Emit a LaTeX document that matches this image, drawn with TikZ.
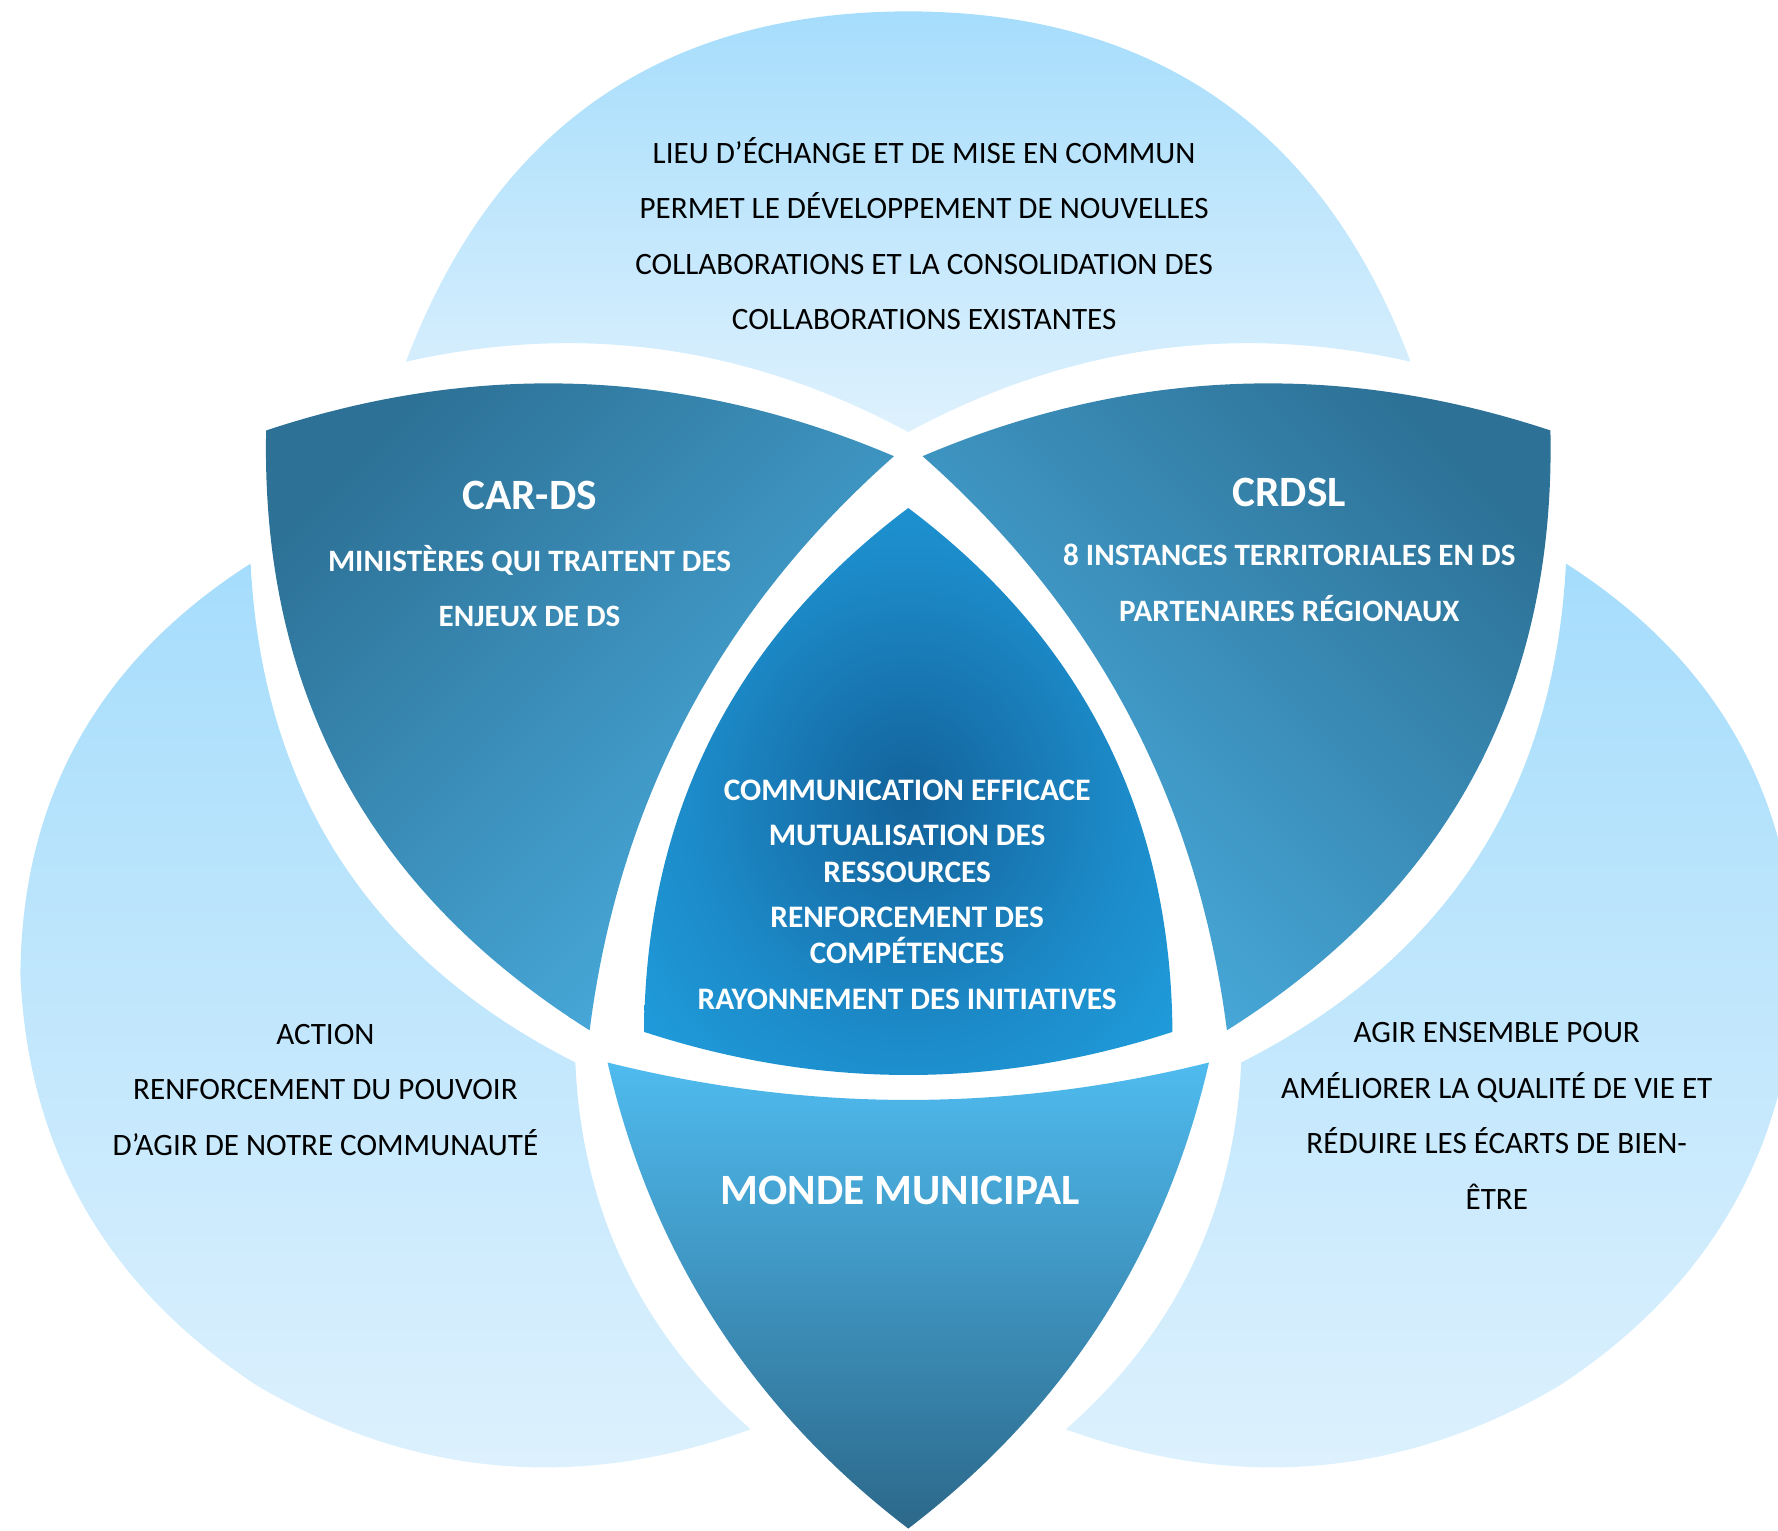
\documentclass[tikz,border=0pt]{standalone}
\usepackage{fontspec}
\setmainfont{Carlito}
\usetikzlibrary{calc}

\definecolor{skytop}{HTML}{A6DDFC}
\definecolor{skybot}{HTML}{DEF1FD}
\definecolor{lensdark}{HTML}{2D7196}
\definecolor{lenslight}{HTML}{4AAEE0}
\definecolor{coredark}{HTML}{13629A}
\definecolor{coremid}{HTML}{1C8AC8}
\definecolor{corelight}{HTML}{22A6E6}
\definecolor{munitop}{HTML}{4FBBEF}
\definecolor{munibot}{HTML}{2C688A}

\pgfdeclareradialshading{coreglow}{\pgfpoint{0bp}{0bp}}{color(0bp)=(coredark); color(20bp)=(coremid); color(40bp)=(corelight); color(50bp)=(corelight)}

\newcommand\qarc[3]{.. controls ($1.3333*(#2)-0.3333*(#3)$) and ($1.3333*(#2)-0.3333*(#1)$) .. (#3)}
\newcommand\spot[3]{\coordinate (#1) at ({\off+(\side)*(#2)},#3);}

\begin{document}
\begin{tikzpicture}[x=0.01cm, y=-0.01cm]
  \tikzset{sky/.style={top color=skytop, bottom color=skybot},
    lens/.style={top color=lensdark, bottom color=lenslight, shading angle=#1},
    muni/.style={top color=munitop, bottom color=munibot},
    skytext/.style={font=\fontsize{7.8}{13.94}\selectfont, align=center, text=black},
    headtext/.style={font=\fontsize{10.85}{12}\selectfont\bfseries, text=white},
    lenstext/.style={font=\fontsize{7.8}{13.94}\selectfont\bfseries, align=center, text=white},
    coretext/.style={font=\fontsize{7.85}{9.1}\selectfont\bfseries, align=center, text=white}}
  \useasboundingbox (0,0) rectangle (1568,1349.4);
  \clip (0,0) rectangle (1568,1349.4);

  \coordinate (topl) at (358,319);
  \coordinate (toparcl) at (527,87.5);
  \coordinate (toptip) at (801,10);
  \coordinate (toparcr) at (1075,87.5);
  \coordinate (topr) at (1244,319);
  \coordinate (topbaser) at (1017.7,308.4);
  \coordinate (topcusp) at (801,381);
  \coordinate (topbasel) at (584.3,308.4);
  \shade[sky] (topl) \qarc{topl}{toparcl}{toptip} \qarc{toptip}{toparcr}{topr}
    \qarc{topr}{topbaser}{topcusp} \qarc{topcusp}{topbasel}{topl} -- cycle;

  \coordinate (coretop) at (801,448);
  \coordinate (coresidel) at (627.4,650.2);
  \coordinate (corel) at (568,910);
  \coordinate (corebase) at (801,948);
  \coordinate (corer) at (1034,910);
  \coordinate (coresider) at (974.6,650.2);
  \shade[shading=coreglow] (coretop) \qarc{coretop}{coresidel}{corel}
    \qarc{corel}{corebase}{corer} \qarc{corer}{coresider}{coretop} -- cycle;

  \coordinate (munil) at (535.8,937);
  \coordinate (munitopq) at (801,970);
  \coordinate (munir) at (1066.2,937);
  \coordinate (munisider) at (970.6,1166.4);
  \coordinate (munitip) at (801,1348);
  \coordinate (munisidel) at (631.4,1166.4);
  \shade[muni] (munil) \qarc{munil}{munitopq}{munir}
    \qarc{munir}{munisider}{munitip} \qarc{munitip}{munisidel}{munil} -- cycle;

  \foreach \side/\off/\ang in {1/0/45,-1/1602/-45}{
    \spot{lenstl}{234.7}{379.6}
    \spot{lenstop}{513.7}{338.7}
    \spot{lenstr}{788.4}{402.3}
    \spot{lensin}{606.5}{630.2}
    \spot{lensbot}{520}{908.6}
    \spot{lensout}{302.5}{684.4}
    \shade[lens=\ang] (lenstl) \qarc{lenstl}{lenstop}{lenstr}
      \qarc{lenstr}{lensin}{lensbot} \qarc{lensbot}{lensout}{lenstl} -- cycle;
    \spot{skytip}{221}{497}
    \spot{skyq1}{69.5}{652.2}
    \spot{skyw}{18}{860.1}
    \spot{skyq2}{75.5}{1066.7}
    \spot{skys}{227.7}{1222.6}
    \spot{skyq3}{439.7}{1292.3}
    \spot{skybr}{662}{1260.5}
    \spot{skyin2}{550.2}{1115.2}
    \spot{skynotch}{507.4}{937}
    \spot{skyin1}{300.3}{758.4}
    \shade[sky] (skytip) \qarc{skytip}{skyq1}{skyw} \qarc{skyw}{skyq2}{skys}
      \qarc{skys}{skyq3}{skybr} \qarc{skybr}{skyin2}{skynotch}
      \qarc{skynotch}{skyin1}{skytip} -- cycle;
  }

  \node[skytext] (lieu) at (815,206) {LIEU D’ÉCHANGE ET DE MISE EN COMMUN\\PERMET LE DÉVELOPPEMENT DE NOUVELLES\\COLLABORATIONS ET LA CONSOLIDATION DES\\COLLABORATIONS EXISTANTES};
  \node[headtext] (cards) at (467,437) {CAR-DS};
  \node[lenstext] (cardstext) at (467,517) {MINISTÈRES QUI TRAITENT DES\\ENJEUX DE DS};
  \node[headtext] (crdsl) at (1137,434) {CRDSL};
  \node[lenstext] (crdsltext) at (1137,514) {8 INSTANCES TERRITORIALES EN DS\\PARTENAIRES RÉGIONAUX};
  \node[coretext] (core) at (800,789) {COMMUNICATION EFFICACE\\[2.3pt]MUTUALISATION DES\\RESSOURCES\\[2.3pt]RENFORCEMENT DES\\COMPÉTENCES\\[2.3pt]RAYONNEMENT DES INITIATIVES};
  \node[headtext] (monde) at (794,1050) {MONDE MUNICIPAL};
  \node[skytext] (action) at (287,961) {ACTION\\RENFORCEMENT DU POUVOIR\\D’AGIR DE NOTRE COMMUNAUTÉ};
  \node[skytext] (agir) at (1320,984) {AGIR ENSEMBLE POUR\\AMÉLIORER LA QUALITÉ DE VIE ET\\RÉDUIRE LES ÉCARTS DE BIEN-\\ÊTRE};
\end{tikzpicture}
\end{document}
